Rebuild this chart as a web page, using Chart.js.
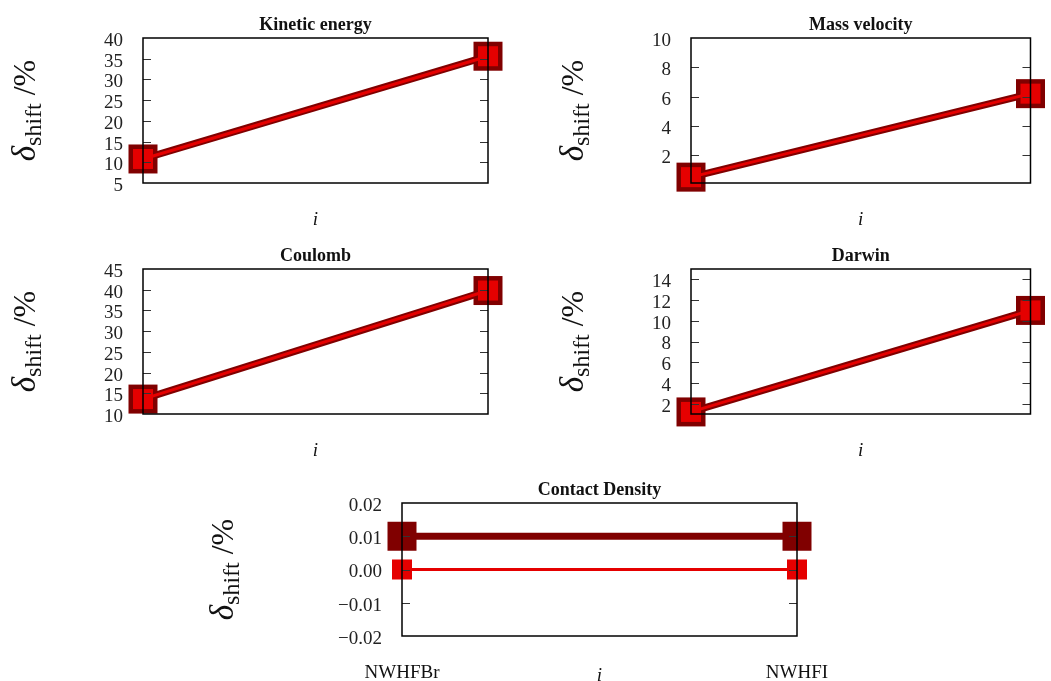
<!DOCTYPE html>
<html>
<head>
<meta charset="utf-8">
<script src="https://cdn.jsdelivr.net/npm/chart.js@4.4.1/dist/chart.umd.min.js"></script>
<style>
  html, body { margin: 0; padding: 0; background: #fff; }
  #wrap { position: relative; width: 1051px; height: 681px; overflow: hidden; }
  canvas { position: absolute; }
</style>
</head>
<body>
<div id="wrap">
  <canvas id="kinetic" width="525" height="230" style="left:0;top:0"></canvas>
  <canvas id="mass" width="526" height="230" style="left:525px;top:0"></canvas>
  <canvas id="coulomb" width="525" height="232" style="left:0;top:230px"></canvas>
  <canvas id="darwin" width="526" height="232" style="left:525px;top:230px"></canvas>
  <canvas id="contact" width="1051" height="219" style="left:0;top:462px"></canvas>
</div>
<script>
const systems = ["NWHFBr", "NWHFI"];

// relative shifts in % (dark = thick series, bright = thin series)
const kineticDark = [10.8, 35.6];
const kineticBright = [10.8, 35.6];
const massDark = [0.5, 6.2];
const massBright = [0.5, 6.2];
const coulombDark = [13.6, 39.8];
const coulombBright = [13.6, 39.8];
const darwinDark = [1.2, 11.0];
const darwinBright = [1.2, 11.0];
const contactDark = [0.01, 0.01];
const contactBright = [0.0, 0.0];

// y ticks
const kineticTicks = [5, 10, 15, 20, 25, 30, 35, 40];
const massTicks = [2, 4, 6, 8, 10];
const coulombTicks = [10, 15, 20, 25, 30, 35, 40, 45];
const darwinTicks = [2, 4, 6, 8, 10, 12, 14];
const contactTicks = [-0.02, -0.01, 0, 0.01, 0.02];
const contactTickLabels = ["−0.02", "−0.01", "0.00", "0.01", "0.02"];

const DARK = "#800000";
const BRIGHT = "#e50000";
const FONT = '"Liberation Serif", "DejaVu Serif", serif';

//枠・内向き目盛り・タイトル類
const decorPlugin = {
  id: "decor",
  afterDraw(chart, args, opts) {
    const { ctx, chartArea: a } = chart;
    const y = chart.scales.y;
    ctx.save();

    // inner ticks on left and right
    ctx.strokeStyle = "#333";
    ctx.lineWidth = 1;
    y.ticks.forEach((t) => {
      const py = Math.round(y.getPixelForValue(t.value)) + 0.5;
      if (py <= a.top + 2 || py >= a.bottom - 2) return;
      ctx.beginPath();
      ctx.moveTo(a.left, py);
      ctx.lineTo(a.left + 8, py);
      ctx.moveTo(a.right, py);
      ctx.lineTo(a.right - 8, py);
      ctx.stroke();
    });

    // frame
    ctx.strokeStyle = "#000";
    ctx.lineWidth = 1.5;
    ctx.strokeRect(a.left, a.top, a.right - a.left, a.bottom - a.top);

    const cx = (a.left + a.right) / 2;
    const cy = (a.top + a.bottom) / 2;
    ctx.fillStyle = "#111";

    // panel title
    ctx.textAlign = "center";
    ctx.textBaseline = "alphabetic";
    ctx.font = "bold 18px " + FONT;
    ctx.fillText(opts.title, cx, a.top - 8);

    // x title
    ctx.font = "italic 19px " + FONT;
    ctx.fillText("i", cx, a.bottom + opts.xTitleGap);

    // y title: δ_shift /%
    const parts = [
      { text: "δ", font: "italic 33px " + FONT, dy: 0 },
      { text: "shift", font: "24px " + FONT, dy: 6 },
      { text: " /%", font: "32px " + FONT, dy: 0 },
    ];
    let total = 0;
    parts.forEach((p) => {
      ctx.font = p.font;
      p.w = ctx.measureText(p.text).width;
      total += p.w;
    });
    ctx.translate(a.left - opts.yTitleGap, cy);
    ctx.rotate(-Math.PI / 2);
    ctx.textAlign = "left";
    let x = -total / 2;
    parts.forEach((p) => {
      ctx.font = p.font;
      ctx.fillText(p.text, x, p.dy);
      x += p.w;
    });
    ctx.restore();
  },
};

function series(label, data, color, width, side) {
  return {
    label,
    data,
    borderColor: color,
    backgroundColor: color,
    borderWidth: width,
    pointStyle: "rect",
    pointRadius: side / Math.SQRT2,
    pointBorderWidth: 0,
    pointBackgroundColor: color,
    tension: 0,
    clip: false,
  };
}

function makePanel(id, p) {
  const showX = !!p.showX;
  return new Chart(document.getElementById(id), {
    type: "line",
    data: {
      labels: systems,
      // bright series listed first so it is drawn on top
      datasets: [
        series("bright", p.bright, BRIGHT, 3, 20),
        series("dark", p.dark, DARK, 7, 29),
      ],
    },
    options: {
      responsive: false,
      animation: false,
      events: [],
      layout: { padding: p.padding },
      plugins: {
        legend: { display: false },
        tooltip: { enabled: false },
        decor: { title: p.title, xTitleGap: p.xTitleGap, yTitleGap: p.yTitleGap },
      },
      scales: {
        x: {
          type: "category",
          display: showX,
          offset: false,
          grid: { display: false, drawTicks: false },
          border: { display: false },
          ticks: {
            padding: 26,
            autoSkip: false,
            maxRotation: 0,
            color: "#111",
            font: { family: FONT, size: 19 },
          },
          afterFit: (s) => { s.height = showX ? 45 : 0; },
        },
        y: {
          min: p.min,
          max: p.max,
          grid: { display: false, drawTicks: false },
          border: { display: false },
          afterFit: (s) => { s.width = p.yWidth; },
          afterBuildTicks: (s) => { s.ticks = p.ticks.map((v) => ({ value: v })); },
          ticks: {
            padding: 20,
            labelOffset: 3,
            autoSkip: false,
            color: "#222",
            font: { family: FONT, size: 19 },
            callback: (v, i) => (p.labels ? p.labels[i] : String(v)),
          },
        },
      },
    },
    plugins: [decorPlugin],
  });
}

makePanel("kinetic", {
  title: "Kinetic energy", dark: kineticDark, bright: kineticBright,
  min: 5, max: 40, ticks: kineticTicks, yWidth: 143,
  padding: { left: 0, top: 38, right: 37, bottom: 47 }, xTitleGap: 42, yTitleGap: 108,
});
makePanel("mass", {
  title: "Mass velocity", dark: massDark, bright: massBright,
  min: 0.1, max: 10, ticks: massTicks, yWidth: 166,
  padding: { left: 0, top: 38, right: 19, bottom: 47 }, xTitleGap: 42, yTitleGap: 108,
});
makePanel("coulomb", {
  title: "Coulomb", dark: coulombDark, bright: coulombBright,
  min: 10, max: 45, ticks: coulombTicks, yWidth: 143,
  padding: { left: 0, top: 39, right: 37, bottom: 48 }, xTitleGap: 42, yTitleGap: 108,
});
makePanel("darwin", {
  title: "Darwin", dark: darwinDark, bright: darwinBright,
  min: 1, max: 15, ticks: darwinTicks, yWidth: 166,
  padding: { left: 0, top: 39, right: 19, bottom: 48 }, xTitleGap: 42, yTitleGap: 108,
});
makePanel("contact", {
  title: "Contact Density", dark: contactDark, bright: contactBright,
  min: -0.02, max: 0.02, ticks: contactTicks, labels: contactTickLabels, yWidth: 402,
  padding: { left: 0, top: 41, right: 254, bottom: 0 }, xTitleGap: 45, yTitleGap: 169,
  showX: true,
});
</script>
</body>
</html>
